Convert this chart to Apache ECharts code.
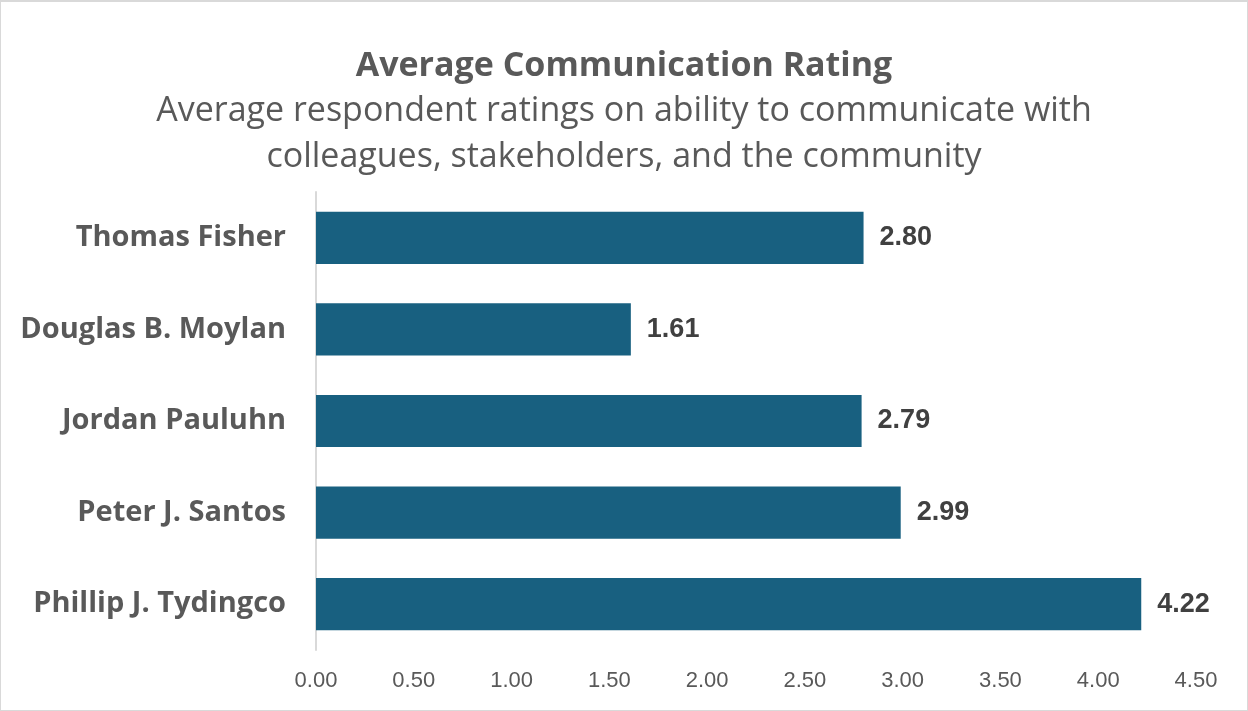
<!DOCTYPE html>
<html>
<head>
<meta charset="utf-8">
<script src="https://cdn.jsdelivr.net/npm/echarts@6/dist/echarts.min.js"></script>
<style>
    html, body { margin: 0; padding: 0; background: #fff; }
    .com-container {
        width: 1248px;
        height: 711px;
        box-sizing: border-box;
        border: 1px solid #d9d9d9;
        border-top-width: 2px;
    }
    .com-chart { width: 100%; height: 100%; }
</style>
</head>
<body>
<div class="com-container">
    <div class="com-chart" id="bar"></div>
</div>
<script>
const names = ['Thomas Fisher', 'Douglas B. Moylan', 'Jordan Pauluhn', 'Peter J. Santos', 'Phillip J. Tydingco']
const ratings = [2.80, 1.61, 2.79, 2.99, 4.22]

const titleText = 'Average Communication Rating'
const subText = 'Average respondent ratings on ability to communicate with\ncolleagues, stakeholders, and the community'

const chartInstance = echarts.init(document.getElementById('bar'))

const option = {
    animation: false,
    title: {
        text: titleText,
        subtext: subText,
        left: 'center',
        top: 42,
        itemGap: 5,
        textStyle: {
            fontFamily: 'Open Sans',
            fontWeight: 'bold',
            fontSize: 34,
            color: '#595959'
        },
        subtextStyle: {
            fontFamily: 'Open Sans',
            fontSize: 34,
            lineHeight: 46,
            color: '#595959'
        }
    },
    grid: {
        left: 315,
        right: 51,
        top: 190,
        bottom: 60
    },
    xAxis: {
        type: 'value',
        min: 0,
        max: 4.5,
        interval: 0.5,
        splitLine: { show: false },
        axisLine: { show: false },
        axisTick: { show: false },
        axisLabel: {
            margin: 20,
            fontFamily: 'Liberation Sans',
            fontSize: 22,
            color: '#595959',
            formatter: v => v.toFixed(2)
        }
    },
    yAxis: {
        type: 'category',
        inverse: true,
        data: names,
        axisTick: { show: false },
        axisLine: { lineStyle: { color: '#d9d9d9', width: 2 } },
        axisLabel: {
            margin: 30,
            fontFamily: 'Open Sans',
            fontWeight: 'bold',
            fontSize: 29,
            color: '#595959'
        }
    },
    series: [{
        type: 'bar',
        data: ratings,
        barWidth: '57%',
        itemStyle: { color: '#186080' },
        label: {
            show: true,
            position: 'right',
            distance: 16,
            fontFamily: 'Liberation Sans',
            fontWeight: 'bold',
            fontSize: 27,
            color: '#404040',
            formatter: p => p.value.toFixed(2)
        }
    }]
}
chartInstance.setOption(option)
</script>
</body>
</html>
